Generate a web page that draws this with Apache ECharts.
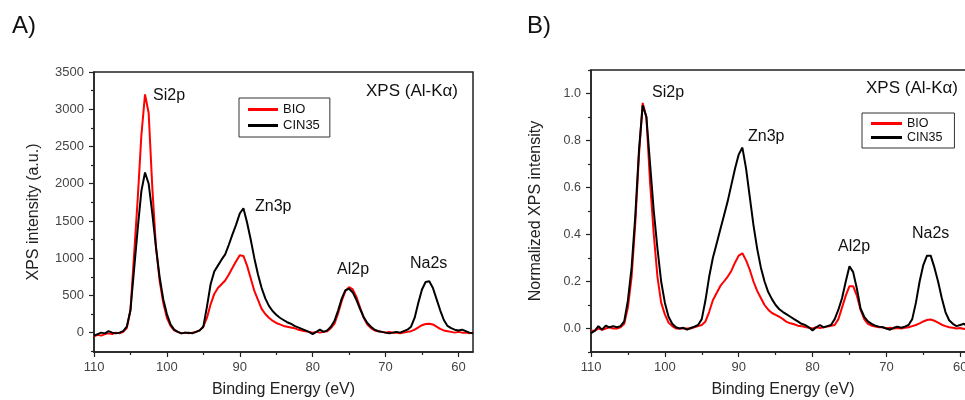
<!DOCTYPE html>
<html>
<head>
<meta charset="utf-8">
<script src="https://cdn.jsdelivr.net/npm/echarts@6/dist/echarts.min.js"></script>
<style>
  html, body { margin: 0; padding: 0; background: #fff; }
  #chart { width: 965px; height: 400px; }
</style>
</head>
<body>
<div id="chart"></div>
<script>
// binding energy grid (eV), read every 0.5 eV
var energy = [110, 109.5, 109, 108.5, 108, 107.5, 107, 106.5, 106, 105.5, 105, 104.5, 104, 103.5, 103, 102.5, 102, 101.5, 101, 100.5,
  100, 99.5, 99, 98.5, 98, 97.5, 97, 96.5, 96, 95.5, 95, 94.5, 94, 93.5, 93, 92.5, 92, 91.5, 91, 90.5,
  90, 89.5, 89, 88.5, 88, 87.5, 87, 86.5, 86, 85.5, 85, 84.5, 84, 83.5, 83, 82.5, 82, 81.5, 81, 80.5,
  80, 79.5, 79, 78.5, 78, 77.5, 77, 76.5, 76, 75.5, 75, 74.5, 74, 73.5, 73, 72.5, 72, 71.5, 71, 70.5,
  70, 69.5, 69, 68.5, 68, 67.5, 67, 66.5, 66, 65.5, 65, 64.5, 64, 63.5, 63, 62.5, 62, 61.5, 61, 60.5,
  60, 59.5, 59, 58.5, 58];

// panel A - raw intensity (a.u.)
var bioRaw = [-50, -30, -40, -20, -10, -20, 0, -10, 10, 60, 300, 1050, 1800, 2650, 3200, 2950, 1950, 1150, 700, 400,
  200, 90, 30, 10, -10, 0, -10, 0, 10, 30, 80, 200, 380, 520, 600, 650, 700, 780, 870, 960,
  1040, 1030, 900, 730, 560, 440, 320, 250, 200, 160, 130, 110, 90, 80, 70, 60, 40, 30, 20, 10,
  0, 10, 0, 10, 20, 60, 120, 260, 430, 560, 610, 580, 480, 340, 200, 110, 60, 30, 20, 10,
  0, 10, 0, 0, -10, 0, 10, 20, 40, 70, 100, 115, 120, 110, 80, 50, 30, 20, 10, 0,
  10, 0, 0, -10, 0];
var cinRaw = [-40, -20, 0, -10, 20, 0, -10, 0, 20, 80, 300, 850, 1400, 1900, 2150, 2000, 1600, 1150, 750, 450,
  250, 110, 40, 10, -10, 0, 0, -10, 10, 30, 80, 350, 650, 820, 900, 980, 1050, 1180, 1320, 1450,
  1600, 1670, 1480, 1250, 1000, 780, 600, 460, 360, 290, 240, 200, 170, 140, 120, 90, 70, 50, 30, 10,
  -20, 10, 40, 10, 30, 80, 160, 300, 460, 570, 590, 540, 440, 320, 210, 130, 80, 40, 20, 10,
  0, -10, 0, 10, 0, 20, 40, 80, 200, 400, 580, 680, 690, 600, 450, 300, 170, 90, 60, 40,
  30, 40, 20, 0, -10];

// panel B - normalized intensity
var bioNorm = [-0.01, -0.01, 0, -0.005, 0, 0.005, 0, 0, 0.005, 0.02, 0.09, 0.22, 0.45, 0.74, 0.96, 0.9, 0.62, 0.4, 0.22, 0.11,
  0.06, 0.025, 0.01, 0, 0, 0, 0, 0, 0.005, 0.01, 0.015, 0.03, 0.07, 0.12, 0.15, 0.18, 0.2, 0.22, 0.245, 0.28,
  0.31, 0.32, 0.29, 0.25, 0.2, 0.16, 0.13, 0.1, 0.08, 0.066, 0.058, 0.05, 0.04, 0.028, 0.022, 0.018, 0.012, 0.01, 0.006, 0.003,
  0, 0.005, 0.002, 0.005, 0.008, 0.012, 0.015, 0.04, 0.09, 0.14, 0.18, 0.18, 0.14, 0.08, 0.04, 0.02, 0.012, 0.008, 0.005, 0.005,
  0, 0.003, 0, 0.002, 0, 0.003, 0.005, 0.01, 0.015, 0.022, 0.03, 0.036, 0.038, 0.033, 0.025, 0.016, 0.01, 0.005, 0.003, 0,
  0.002, -0.002, 0, -0.003, 0];
var cinNorm = [-0.02, -0.01, 0.01, -0.005, 0.012, 0.005, 0.01, 0.005, 0.01, 0.03, 0.12, 0.26, 0.48, 0.76, 0.95, 0.9, 0.7, 0.5, 0.34, 0.2,
  0.11, 0.05, 0.02, 0.005, 0, 0.003, -0.005, 0.002, 0.008, 0.015, 0.04, 0.12, 0.22, 0.3, 0.36, 0.42, 0.48, 0.54, 0.61, 0.68,
  0.74, 0.77, 0.68, 0.56, 0.44, 0.34, 0.26, 0.2, 0.155, 0.125, 0.1, 0.082, 0.07, 0.06, 0.05, 0.04, 0.03, 0.02, 0.015, 0.005,
  -0.008, 0.005, 0.015, 0.005, 0.01, 0.015, 0.04, 0.08, 0.13, 0.2, 0.265, 0.24, 0.17, 0.085, 0.05, 0.03, 0.02, 0.012, 0.008, 0.005,
  0, -0.005, 0.003, 0.008, 0.003, 0.008, 0.015, 0.04, 0.11, 0.2, 0.27, 0.31, 0.31, 0.26, 0.2, 0.13, 0.07, 0.035, 0.02, 0.01,
  0.015, 0.02, 0.01, 0, -0.005];

// ticks
var xMajor = [60, 70, 80, 90, 100, 110];
var xMinor = [65, 75, 85, 95, 105];
var yMajorA = [0, 500, 1000, 1500, 2000, 2500, 3000, 3500];
var yMinorA = [-250, 250, 750, 1250, 1750, 2250, 2750, 3250];
var yMajorB = [0, 0.2, 0.4, 0.6, 0.8, 1.0];
var yMinorB = [-0.1, 0.1, 0.3, 0.5, 0.7, 0.9, 1.1];

var FONT = "'Liberation Sans', Arial, sans-serif";
var AX = '#222';

function pairs(ys) {
  return energy.map(function (e, i) { return [e, ys[i]]; });
}

function xAxes(grid) {
  return [
    {
      gridIndex: grid, type: 'value', min: 58, max: 110, inverse: true, position: 'bottom', offset: 0,
      name: 'Binding Energy (eV)', nameLocation: 'middle', nameGap: 30,
      nameTextStyle: { fontSize: 16, color: '#222', fontFamily: FONT },
      axisLine: { show: true, onZero: false, lineStyle: { color: AX, width: 1.5 } },
      axisTick: { show: true, length: 5, customValues: xMajor, lineStyle: { color: AX, width: 1.2 } },
      axisLabel: { customValues: xMajor, fontSize: 13, color: '#444', margin: 9, fontFamily: FONT,
        formatter: function (v) { return String(v); } },
      splitLine: { show: false }
    },
    {
      gridIndex: grid, type: 'value', min: 58, max: 110, inverse: true, position: 'bottom', offset: 0,
      axisLine: { show: false, onZero: false },
      axisTick: { show: true, length: 3, customValues: xMinor, lineStyle: { color: AX, width: 1.2 } },
      axisLabel: { show: false },
      splitLine: { show: false }
    }
  ];
}

function yAxes(grid, min, max, major, minor, name, gap, fs, fmt) {
  return [
    {
      gridIndex: grid, type: 'value', min: min, max: max, position: 'left', offset: 0,
      name: name, nameLocation: 'middle', nameGap: gap,
      nameTextStyle: { fontSize: 16, color: '#222', fontFamily: FONT },
      axisLine: { show: true, onZero: false, lineStyle: { color: AX, width: 1.5 } },
      axisTick: { show: true, length: 5, customValues: major, lineStyle: { color: AX, width: 1.2 } },
      axisLabel: { customValues: major, fontSize: fs, color: '#444', margin: 10, fontFamily: FONT, formatter: fmt },
      splitLine: { show: false }
    },
    {
      gridIndex: grid, type: 'value', min: min, max: max, position: 'left', offset: 0,
      axisLine: { show: false, onZero: false },
      axisTick: { show: true, length: 3, customValues: minor, lineStyle: { color: AX, width: 1.2 } },
      axisLabel: { show: false },
      splitLine: { show: false }
    }
  ];
}

function line(name, color, xi, yi, ys) {
  return {
    name: name, type: 'line', xAxisIndex: xi, yAxisIndex: yi,
    data: pairs(ys), showSymbol: false, symbol: 'none',
    lineStyle: { color: color, width: 2 }, itemStyle: { color: color },
    animation: false, z: color === '#ff0000' ? 2 : 3
  };
}

function txt(x, y, s, size) {
  return {
    type: 'text', left: x, top: y,
    style: { text: s, fontSize: size || 16, fill: '#111', fontFamily: FONT }
  };
}

var legendBase = {
  orient: 'vertical', icon: 'rect', itemHeight: 3, borderColor: '#333', borderWidth: 1,
  data: ['BIO', 'CIN35'], selectedMode: false,
  textStyle: { color: '#111', fontFamily: FONT }
};

var chart = echarts.init(document.getElementById('chart'));
chart.setOption({
  backgroundColor: '#fff',
  animation: false,
  grid: [
    { left: 94, top: 72, width: 379, height: 280, show: true, borderColor: AX, borderWidth: 1.5,
      backgroundColor: 'transparent', containLabel: false, outerBoundsMode: 'none' },
    { left: 591, top: 70, width: 384, height: 282, show: true, borderColor: AX, borderWidth: 1.5,
      backgroundColor: 'transparent', containLabel: false, outerBoundsMode: 'none' }
  ],
  legend: [
    Object.assign({}, legendBase, { left: 239, top: 98, padding: [5, 10, 5, 9], itemWidth: 30, itemGap: 3,
      textStyle: { color: '#111', fontFamily: FONT, fontSize: 13 } }),
    Object.assign({}, legendBase, { left: 862, top: 113, padding: [4, 12, 4, 9], itemWidth: 31, itemGap: 1,
      textStyle: { color: '#111', fontFamily: FONT, fontSize: 12.5 } })
  ],
  xAxis: xAxes(0).concat(xAxes(1)),
  yAxis: yAxes(0, -260, 3500, yMajorA, yMinorA, 'XPS intensity (a.u.)', 52, 13,
      function (v) { return String(v); })
    .concat(yAxes(1, -0.1, 1.1, yMajorB, yMinorB, 'Normalized XPS intensity', 47, 12.5,
      function (v) { return v.toFixed(1); })),
  series: [
    line('BIO', '#ff0000', 0, 0, bioRaw),
    line('CIN35', '#000000', 0, 0, cinRaw),
    line('BIO', '#ff0000', 2, 2, bioNorm),
    line('CIN35', '#000000', 2, 2, cinNorm)
  ],
  graphic: [
    txt(12, 14, 'A)', 24),
    txt(527, 14, 'B)', 24),
    txt(153, 88, 'Si2p'),
    txt(366, 83, 'XPS (Al-K\u03b1)', 17),
    txt(255, 199, 'Zn3p'),
    txt(337, 262, 'Al2p'),
    txt(410, 256, 'Na2s'),
    txt(652, 85, 'Si2p'),
    txt(748, 129, 'Zn3p'),
    txt(866, 80, 'XPS (Al-K\u03b1)', 17),
    txt(838, 239, 'Al2p'),
    txt(912, 226, 'Na2s')
  ]
});
</script>
</body>
</html>
